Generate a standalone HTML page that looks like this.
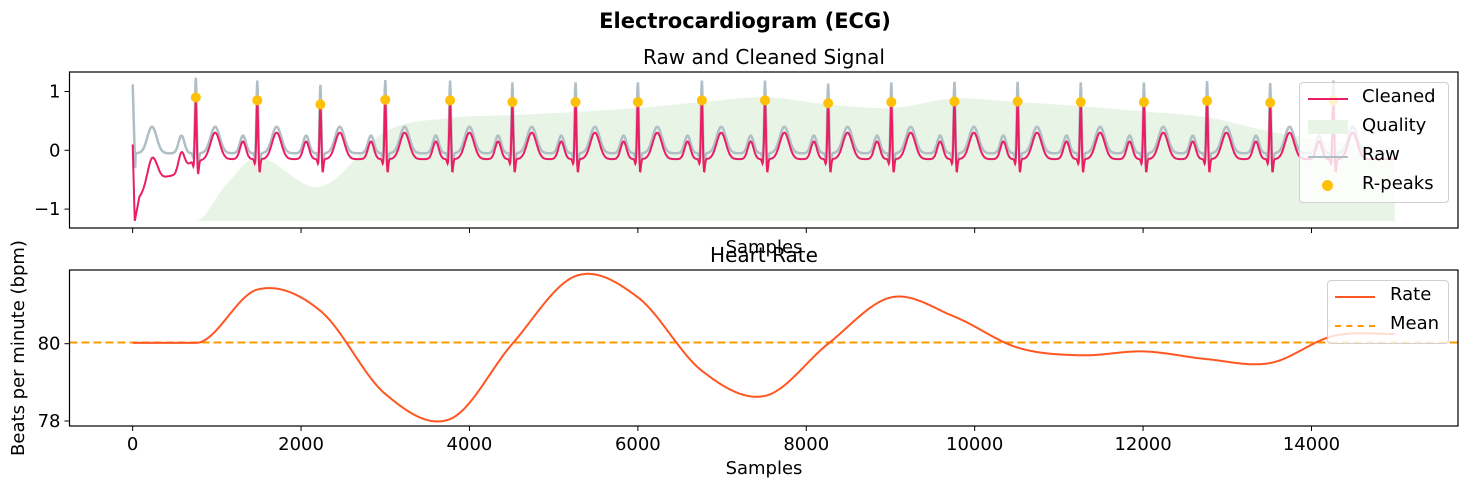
<!DOCTYPE html>
<html><head><meta charset="utf-8"><style>
body{margin:0;background:#fff;}
svg{display:block;font-family:"DejaVu Sans","Liberation Sans",sans-serif;}
</style></head><body>
<svg id="chart" width="1468" height="489" xmlns="http://www.w3.org/2000/svg">
<rect width="1468" height="489" fill="#fff"/>
<text x="745" y="28" font-size="21" font-weight="bold" text-anchor="middle">Electrocardiogram (ECG)</text>
<text x="764" y="64" font-size="20" text-anchor="middle">Raw and Cleaned Signal</text>
<g id="gtop"></g>
<g id="gbot"></g>
<text x="764" y="253" font-size="18" text-anchor="middle">Samples</text>
<text x="764" y="262" font-size="20" text-anchor="middle">Heart Rate</text>
<text x="764" y="474" font-size="18" text-anchor="middle">Samples</text>
<text transform="translate(24,348) rotate(-90)" font-size="18" text-anchor="middle">Beats per minute (bpm)</text>
</svg>
<script>
// ---- data ----
const rpeakSamples=[750,1480,2230,3000,3770,4510,5260,6000,6760,7510,8260,9010,9760,10510,11260,12010,12760,13510,14260];
const rpeakValues=[0.90,0.85,0.78,0.86,0.85,0.82,0.82,0.82,0.85,0.85,0.80,0.82,0.83,0.83,0.82,0.82,0.84,0.81,0.85];
const qualitySamples=[750,1100,1480,2230,3000,3770,4510,5260,6000,6760,7510,8260,9010,9760,10510,11260,12010,12760,13510,14260,14990];
const qualityValues=[-1.2,-0.6,-0.12,-0.62,0.32,0.55,0.6,0.65,0.72,0.82,0.9,0.78,0.72,0.88,0.82,0.75,0.66,0.56,0.32,0.15,0.08];
const cleanedBaseSamples=[0,25,80,300,500,700,900,14990];
const cleanedBaseValues=[0.1,-1.2,-0.8,-0.48,-0.42,-0.2,-0.15,-0.15];
const beatTemplateOffsets=[-170,-25,0,25,230];
const beatTemplateCleaned=[0.3,-0.1,0,-0.25,0.45];
const rateSamples=[0,750,1480,2230,3000,3770,4510,5260,6000,6760,7510,8260,9010,9760,10510,11260,12010,12760,13510,14260,14990];
const rateValues=[80.02,80.02,81.4,80.85,78.7,78.05,80.0,81.75,81.2,79.3,78.65,80.0,81.2,80.7,79.9,79.7,79.8,79.6,79.5,80.2,80.25];
const meanRate=80.03;
const xTicks=[0,2000,4000,6000,8000,10000,12000,14000];
const topYTicks=[-1,0,1];
const botYTicks=[78,80];
(function(){
const X0=69.5,X1=1458,XMIN=-750,XMAX=15740;
const sx=v=>X0+(v-XMIN)/(XMAX-XMIN)*(X1-X0);
const T0=72,T1=228, syT=v=>150.3-v*58.8;
const B0=270,B1=426, syB=v=>343.7-(v-80)*38.65;
const NS="http://www.w3.org/2000/svg";
function mk(p,t,a){const e=document.createElementNS(NS,t);for(const k in a)e.setAttribute(k,a[k]);p.appendChild(e);return e;}
function interp(xs,ys,x){
  const n=xs.length;
  if(x<=xs[0])return ys[0];if(x>=xs[n-1])return ys[n-1];
  let i=0;while(xs[i+1]<x)i++;
  const h=xs[i+1]-xs[i],t=(x-xs[i])/h;
  const m=j=>{if(j<=0||j>=n-1)return 0;return (ys[j+1]-ys[j-1])/(xs[j+1]-xs[j-1]);};
  const m0=m(i)*h,m1=m(i+1)*h;
  const t2=t*t,t3=t2*t;
  return (2*t3-3*t2+1)*ys[i]+(t3-2*t2+t)*m0+(-2*t3+3*t2)*ys[i+1]+(t3-t2)*m1;}
function linInterp(xs,ys,x){if(x<=xs[0])return ys[0];if(x>=xs[xs.length-1])return ys[ys.length-1];let i=0;while(xs[i+1]<x)i++;const t=(x-xs[i])/(xs[i+1]-xs[i]);return ys[i]+(ys[i+1]-ys[i])*t;}
const widths=[35,10,10,10,55];
function beat(x,peaks,amps){let s=0;
  for(let b=0;b<peaks.length;b++){const d=x-peaks[b];if(d<-400||d>600)continue;
    for(let k=0;k<5;k++){let a=beatTemplateCleaned[k];if(k===2)a=amps[b];
      if(b===0&&k!==4)continue;
      const u=(d-beatTemplateOffsets[k])/widths[k];s+=a*Math.exp(-0.5*u*u);}}
  return s;}
const allPeaks=[0].concat(rpeakSamples), cleanAmps=[0.1].concat(rpeakValues.map(v=>v+0.15)), rawAmps=[0.1].concat(rpeakValues.map(v=>v+0.4));
const gT=document.getElementById('gtop'),gB=document.getElementById('gbot');
function frame(g,y0,y1,yt,sy){
  xTicks.forEach(t=>{const l=mk(g,'line',{x1:sx(t),x2:sx(t),y1:y1,y2:y1+5,stroke:'#000','stroke-width':1});
    
    });
  yt.forEach(t=>{const l=mk(g,'line',{x1:X0-5,x2:X0,y1:sy(t),y2:sy(t),stroke:'#000'});
    
    
    const tx=mk(g,'text',{x:X0-9,y:sy(t)+6,'font-size':18,'text-anchor':'end'});tx.textContent=t<0?'\u2212'+(-t):String(t);
    
    });
}
let qp='M'+sx(750)+','+syT(-1.2);
for(let s=750;s<=14990;s+=20)qp+=' L'+sx(s).toFixed(1)+','+syT(Math.max(-1.2,interp(qualitySamples,qualityValues,s))).toFixed(1);
qp+=' L'+sx(14990)+','+syT(-1.2)+' Z';
const q=mk(gT,'path',{d:qp,fill:'#e8f4e6'});


let rp='',cp='';
for(let s=0;s<=14990;s+=5){
  let rv=-0.05+beat(s,allPeaks,rawAmps);
  if(s<=30)rv=linInterp([0,30],[1.12,-0.3],s);
  const cv=linInterp(cleanedBaseSamples,cleanedBaseValues,s)+beat(s,allPeaks,cleanAmps);
  rp+=(s?' L':'M')+sx(s).toFixed(1)+','+syT(rv).toFixed(1);
  cp+=(s?' L':'M')+sx(s).toFixed(1)+','+syT(cv).toFixed(1);
}
const r=mk(gT,'path',{d:rp,fill:'none',stroke:'#b0bec5','stroke-width':2.5});


const c=mk(gT,'path',{d:cp,fill:'none',stroke:'#e91e63','stroke-width':2});


rpeakSamples.forEach((s,i)=>{const d=mk(gT,'circle',{cx:sx(s),cy:syT(rpeakValues[i]),r:5,fill:'#ffc107'});
  
  });
mk(gT,'rect',{x:X0,y:T0,width:X1-X0,height:T1-T0,fill:'none',stroke:'#000','stroke-width':1.2});
frame(gT,T0,T1,topYTicks,syT);
const mn=mk(gB,'line',{x1:X0,x2:X1,y1:syB(meanRate),y2:syB(meanRate),stroke:'#ff9800','stroke-width':2,'stroke-dasharray':'8,4'});


let hp='';
for(let s=0;s<=14990;s+=10)hp+=(s?' L':'M')+sx(s).toFixed(1)+','+syB(s<750?rateValues[0]:interp(rateSamples.slice(1),rateValues.slice(1),s)).toFixed(1);
const h=mk(gB,'path',{d:hp,fill:'none',stroke:'#ff5722','stroke-width':2});


mk(gB,'rect',{x:X0,y:B0,width:X1-X0,height:B1-B0,fill:'none',stroke:'#000','stroke-width':1.2});
frame(gB,B0,B1,botYTicks,syB);
xTicks.forEach(t=>{const tx=mk(gB,'text',{x:sx(t),y:450,'font-size':18,'text-anchor':'middle'});tx.textContent=String(t);
  
  });
})();
</script>
<div style="position:absolute;left:1299px;top:82px;width:148px;height:119px;background:rgba(255,255,255,0.8);border:1px solid #d0d0d0;border-radius:4px;font:18px 'DejaVu Sans',sans-serif;">
 <div style="position:absolute;left:8px;top:15px;width:40px;height:2px;background:#e91e63"></div><div style="position:absolute;left:62px;top:3px">Cleaned</div>
 <div style="position:absolute;left:8px;top:37px;width:40px;height:14px;background:#e8f4e6"></div><div style="position:absolute;left:62px;top:32px">Quality</div>
 <div style="position:absolute;left:8px;top:73px;width:40px;height:2px;background:#b0bec5"></div><div style="position:absolute;left:62px;top:61px">Raw</div>
 <div style="position:absolute;left:22px;top:97px;width:11px;height:11px;border-radius:50%;background:#ffc107"></div><div style="position:absolute;left:62px;top:90px">R-peaks</div>
</div>
<div style="position:absolute;left:1327px;top:280px;width:120px;height:62px;background:rgba(255,255,255,0.8);border:1px solid #d0d0d0;border-radius:4px;font:18px 'DejaVu Sans',sans-serif;">
 <div style="position:absolute;left:7px;top:15px;width:40px;height:2px;background:#ff5722"></div><div style="position:absolute;left:62px;top:3px">Rate</div>
 <div style="position:absolute;left:7px;top:44px;width:40px;height:0;border-top:2px dashed #ff9800"></div><div style="position:absolute;left:62px;top:32px">Mean</div>
</div>
</body></html>
